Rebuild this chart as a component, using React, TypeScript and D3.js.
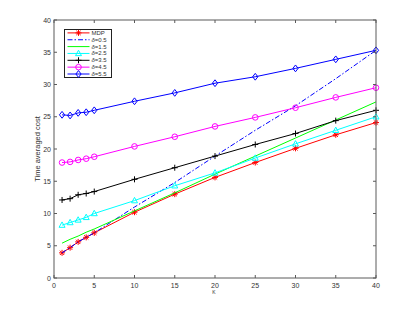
import React from 'react'
import * as d3 from 'd3'

const xs = [1, 2, 3, 4, 5, 10, 15, 20, 25, 30, 35, 40]

const mdp = [3.9, 4.7, 5.6, 6.3, 7.0, 10.2, 13.0, 15.6, 17.9, 20.1, 22.2, 24.1]
const d05 = [3.9, 4.7, 5.6, 6.3, 7.0, 11.0, 14.8, 18.9, 22.9, 26.7, 30.9, 35.3]
const d15 = [5.4, 6.0, 6.5, 7.1, 7.6, 10.4, 13.2, 16.1, 18.9, 21.7, 24.5, 27.3]
const d25 = [8.2, 8.6, 9.0, 9.4, 10.0, 12.0, 14.3, 16.3, 18.6, 20.8, 22.9, 25.0]
const d35 = [12.1, 12.3, 12.9, 13.1, 13.4, 15.3, 17.1, 18.9, 20.7, 22.4, 24.4, 26.0]
const d45 = [17.9, 18.0, 18.3, 18.5, 18.8, 20.4, 21.9, 23.5, 24.9, 26.4, 28.0, 29.5]
const d55 = [25.3, 25.2, 25.6, 25.7, 26.0, 27.4, 28.7, 30.2, 31.2, 32.5, 33.9, 35.3]

const xTicks = [0, 5, 10, 15, 20, 25, 30, 35, 40]
const yTicks = [0, 5, 10, 15, 20, 25, 30, 35, 40]

type Marker = 'star' | 'none' | 'tri' | 'plus' | 'circle' | 'diamond'

interface Series {
  name: string
  delta: boolean
  values: number[]
  color: string
  marker: Marker
  dash?: string
}

const series: Series[] = [
  { name: 'MDP', delta: false, values: mdp, color: '#ff0000', marker: 'star' },
  { name: '=0.5', delta: true, values: d05, color: '#0000ff', marker: 'none', dash: '5,2,1.5,2' },
  { name: '=1.5', delta: true, values: d15, color: '#00ff00', marker: 'none' },
  { name: '=2.5', delta: true, values: d25, color: '#00ffff', marker: 'tri' },
  { name: '=3.5', delta: true, values: d35, color: '#000000', marker: 'plus' },
  { name: '=4.5', delta: true, values: d45, color: '#ff00ff', marker: 'circle' },
  { name: '=5.5', delta: true, values: d55, color: '#0000ff', marker: 'diamond' },
]

const W = 415
const H = 312
const left = 54
const right = 376
const top = 20
const bottom = 278

const x = d3.scaleLinear().domain([0, 40]).range([left, right])
const y = d3.scaleLinear().domain([0, 40]).range([bottom, top])

const MarkerShape = ({ kind, cx, cy, color }: { kind: Marker; cx: number; cy: number; color: string }) => {
  const s = 3
  if (kind === 'star') {
    const d = s * 0.72
    return (
      <g stroke={color} strokeWidth={1}>
        <line x1={cx - s} y1={cy} x2={cx + s} y2={cy} />
        <line x1={cx} y1={cy - s} x2={cx} y2={cy + s} />
        <line x1={cx - d} y1={cy - d} x2={cx + d} y2={cy + d} />
        <line x1={cx - d} y1={cy + d} x2={cx + d} y2={cy - d} />
      </g>
    )
  }
  if (kind === 'plus') {
    return (
      <g stroke={color} strokeWidth={1}>
        <line x1={cx - s} y1={cy} x2={cx + s} y2={cy} />
        <line x1={cx} y1={cy - s} x2={cx} y2={cy + s} />
      </g>
    )
  }
  if (kind === 'circle') {
    return <circle cx={cx} cy={cy} r={2.8} fill="none" stroke={color} strokeWidth={1} />
  }
  if (kind === 'tri') {
    return (
      <path
        d={`M${cx},${cy - 3.2}L${cx + 3},${cy + 2.2}L${cx - 3},${cy + 2.2}Z`}
        fill="none"
        stroke={color}
        strokeWidth={1}
      />
    )
  }
  if (kind === 'diamond') {
    return (
      <path
        d={`M${cx},${cy - 3.4}L${cx + 2.6},${cy}L${cx},${cy + 3.4}L${cx - 2.6},${cy}Z`}
        fill="none"
        stroke={color}
        strokeWidth={1}
      />
    )
  }
  return null
}

export default function App() {
  const line = d3
    .line<number>()
    .x((_, i) => x(xs[i]))
    .y((v) => y(v))

  const axisColor = '#5a5a5a'
  const textColor = '#333'
  const font = 'Liberation Sans, Arial, sans-serif'

  // legend box
  const lg = { x: 64.5, y: 29.5, w: 47, h: 48 }
  const rowH = 6.85

  return (
    <svg
      width={W}
      height={H}
      style={{ position: 'absolute', left: 0, top: 0, background: '#fff' }}
      fontFamily={font}
    >
      <rect x={0} y={0} width={W} height={H} fill="#fff" />

      {series.map((s) => (
        <g key={s.name}>
          <path
            d={line(s.values) || ''}
            fill="none"
            stroke={s.color}
            strokeWidth={1}
            strokeDasharray={s.dash}
          />
          {s.values.map((v, i) => (
            <MarkerShape key={i} kind={s.marker} cx={x(xs[i])} cy={y(v)} color={s.color} />
          ))}
        </g>
      ))}

      {/* axes box */}
      <rect x={left} y={top} width={right - left} height={bottom - top} fill="none" stroke={axisColor} strokeWidth={1} />

      {xTicks.map((t) => (
        <g key={`x${t}`}>
          <line x1={x(t)} x2={x(t)} y1={bottom} y2={bottom - 3} stroke={axisColor} />
          <line x1={x(t)} x2={x(t)} y1={top} y2={top + 3} stroke={axisColor} />
          <text x={x(t)} y={287.5} fontSize={7} textAnchor="middle" fill={textColor}>
            {t}
          </text>
        </g>
      ))}

      {yTicks.map((t) => (
        <g key={`y${t}`}>
          <line x1={left} x2={left + 3} y1={y(t)} y2={y(t)} stroke={axisColor} />
          <line x1={right} x2={right - 3} y1={y(t)} y2={y(t)} stroke={axisColor} />
          <text x={51} y={y(t) + 2.5} fontSize={7} textAnchor="end" fill={textColor}>
            {t}
          </text>
        </g>
      ))}

      <text x={214} y={294} fontSize={5} textAnchor="middle" fill={textColor}>
        K
      </text>
      <text
        transform={`translate(40,${(top + bottom) / 2}) rotate(-90)`}
        fontSize={7.5}
        textAnchor="middle"
        fill={textColor}
      >
        Time averaged cost
      </text>

      {/* legend */}
      <rect x={lg.x} y={lg.y} width={lg.w} height={lg.h} fill="#fff" stroke="#222" strokeWidth={1} />
      {series.map((s, i) => {
        const cy = lg.y + 3.4 + i * rowH
        return (
          <g key={`lg${s.name}`}>
            <line x1={67.5} x2={89.5} y1={cy} y2={cy} stroke={s.color} strokeWidth={1} strokeDasharray={s.dash} />
            <MarkerShape kind={s.marker} cx={78.5} cy={cy} color={s.color} />
            <text x={91.5} y={cy + 2} fontSize={6} fill={textColor}>
              {s.delta ? (
                <>
                  <tspan fontStyle="italic">δ</tspan>
                  {s.name}
                </>
              ) : (
                s.name
              )}
            </text>
          </g>
        )
      })}
    </svg>
  )
}
